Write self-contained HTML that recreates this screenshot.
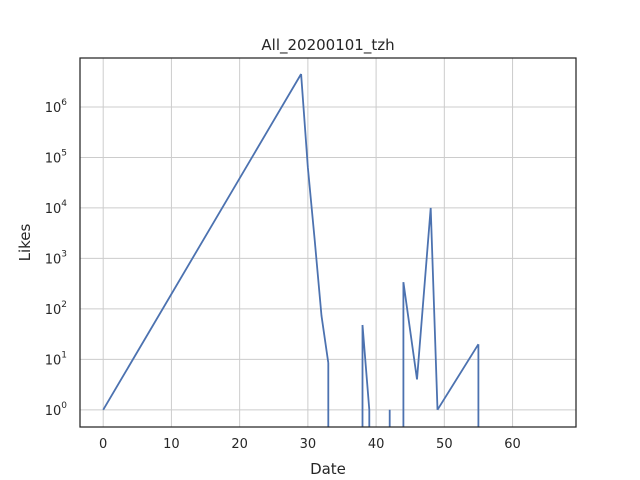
<!DOCTYPE html>
<html><head><meta charset="utf-8"><style>
html,body{margin:0;padding:0;background:#fff;width:640px;height:480px;overflow:hidden;font-family:"Liberation Sans","DejaVu Sans",sans-serif;}
svg{display:block;overflow:hidden;}
text{font-family:"DejaVu Sans","Liberation Sans",sans-serif;fill:#262626;}
</style></head><body>
<svg id="chart" width="640" height="480"></svg>
<script>
const dates = [0,29,30,31,32,33,34,35,36,37,38,39,40,41,42,43,44,46,48,49,55,56];
const likes = [1,4.5e6,6.2e4,2300,73,8.5,0,0,0,0,48,1,0,0,1,0,340,4,1e4,1,20,0];
const xTicks = [0,10,20,30,40,50,60];
const yTicks = [0,1,2,3,4,5,6];
const L=80,R=576,T=58,B=427;
const xMin=-3.4,xMax=69.3,yMin=-0.34,yMax=6.97;
const sx=v=>L+(v-xMin)/(xMax-xMin)*(R-L);
const sy=v=>B-(Math.log10(v)-yMin)/(yMax-yMin)*(B-T);
const sye=e=>B-(e-yMin)/(yMax-yMin)*(B-T);
const svg=document.getElementById('chart');
const NS='http://www.w3.org/2000/svg';
function mk(t,a,p){const e=document.createElementNS(NS,t);for(const k in a)e.setAttribute(k,a[k]);(p||svg).appendChild(e);return e;}
xTicks.forEach(v=>{
 const g=mk('line',{x1:sx(v),x2:sx(v),y1:T,y2:B,stroke:'#cccccc','stroke-width':1});
 
 
 const t=mk('text',{x:sx(v),y:B+21,'text-anchor':'middle','font-size':'13'});t.textContent=v;
 
 
});
yTicks.forEach(e=>{
 const g=mk('line',{x1:L,x2:R,y1:sye(e),y2:sye(e),stroke:'#cccccc','stroke-width':1});
 
 
 const t=mk('text',{x:L-13,y:sye(e)+5,'text-anchor':'end','font-size':'13'});
 
 
 t.innerHTML='10<tspan dy="-7" font-size="9">'+e+'</tspan>';
});
// Build path: zero values (log-clipped) drop vertically to the axis bottom
let d='';
for(let i=0;i<dates.length-1;i++){
 const a=likes[i],b=likes[i+1];
 if(a>0&&b>0){d+='M'+sx(dates[i]).toFixed(1)+','+sy(a).toFixed(1)+'L'+sx(dates[i+1]).toFixed(1)+','+sy(b).toFixed(1);}
 else if(a>0){d+='M'+sx(dates[i]).toFixed(1)+','+sy(a).toFixed(1)+'L'+sx(dates[i]).toFixed(1)+','+B;}
 else if(b>0){d+='M'+sx(dates[i+1]).toFixed(1)+','+B+'L'+sx(dates[i+1]).toFixed(1)+','+sy(b).toFixed(1);}
}
const p=mk('path',{d:d,fill:'none',stroke:'#4c72b0','stroke-width':1.8,'stroke-linejoin':'round'});


const fr=mk('rect',{x:L,y:T,width:R-L,height:B-T,fill:'none',stroke:'#262626','stroke-width':1.25});


const ti=mk('text',{x:(L+R)/2,y:50,'text-anchor':'middle','font-size':'15'});ti.textContent='All_20200101_tzh';


const xl=mk('text',{x:(L+R)/2,y:474,'text-anchor':'middle','font-size':'15'});xl.textContent='Date';


const yl=mk('text',{x:30,y:(T+B)/2,'text-anchor':'middle','font-size':'15',transform:'rotate(-90 30 '+((T+B)/2)+')'});yl.textContent='Likes';


</script>
</body></html>
